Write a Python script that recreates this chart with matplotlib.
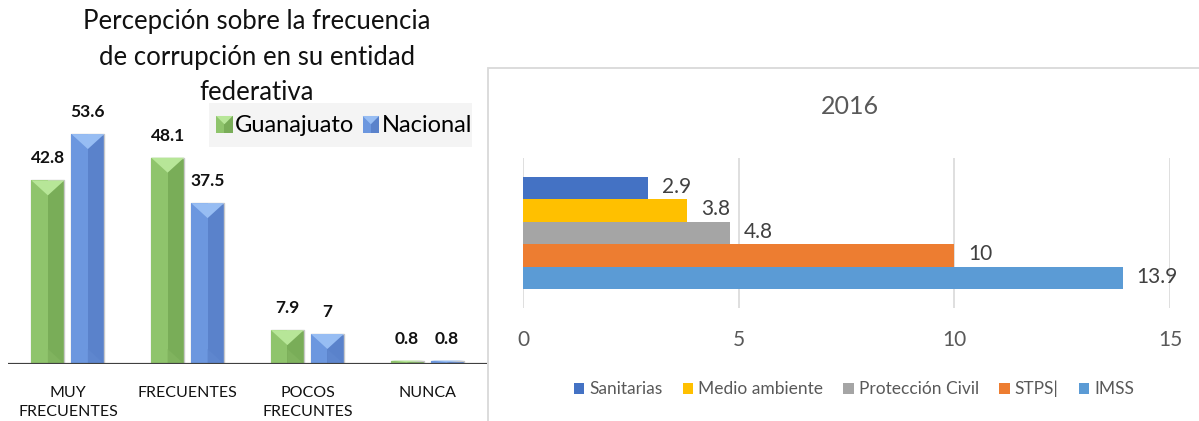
import matplotlib
matplotlib.use("Agg")
import matplotlib.pyplot as plt
from matplotlib.patches import Rectangle, Polygon
from matplotlib.legend_handler import HandlerBase

plt.rcParams['font.family'] = ['Lato', 'DejaVu Sans']

# ---- data: perception of corruption frequency ----
categorias = ["MUY\nFRECUENTES", "FRECUENTES", "POCOS\nFRECUNTES", "NUNCA"]
guanajuato = [42.8, 48.1, 7.9, 0.8]
nacional = [53.6, 37.5, 7.0, 0.8]
serie_izq = ["Guanajuato", "Nacional"]

# ---- data: 2016 inspections ----
dependencias = ["Sanitarias", "Medio ambiente", "Protección Civil", "STPS|", "IMSS"]
valores_2016 = [2.9, 3.8, 4.8, 10, 13.9]
ticks_2016 = [0, 5, 10, 15]

W, H = 1199, 421
fig = plt.figure(figsize=(W / 100, H / 100), dpi=100)


def fx(px):
    return px / W


def fy(py):
    return 1 - py / H


# bevel palettes: (left face, right face, top facet, bottom facet)
VERDE = ("#8fc46c", "#79ad58", "#b7e698", "#80b35e")
AZUL = ("#6c97df", "#5a82cb", "#97bdf3", "#5e86ce")

# ---------------- left chart ----------------
axl = fig.add_axes([fx(8), fy(364), fx(479), (364 - 106.6) / H])
axl.set_xlim(-0.5, 3.5)
axl.set_ylim(0, 60)
for s in axl.spines.values():
    s.set_visible(False)
axl.set_yticks([])

bw = 0.275
off = 0.167
xs = list(range(len(categorias)))
bevel_px = 15.0
units_per_px = 60 / (364 - 106.6)


def bevel(ax, bars, pal):
    light, dark, top, bottom = pal
    for b in bars:
        x0, w, h = b.get_x(), b.get_width(), b.get_height()
        xm = x0 + w / 2
        d = min(bevel_px * units_per_px, h / 2)
        ax.add_patch(Rectangle((x0, 0), w / 2, h, fc=light, ec="none", zorder=3))
        ax.add_patch(Polygon([[xm, d], [x0 + w, 0], [xm, 0]], closed=True,
                             fc=bottom, ec="none", zorder=3))
        ax.add_patch(Polygon([[x0, h], [x0 + w, h], [xm, h - d]], closed=True,
                             fc=top, ec="none", zorder=4))


bars_g = axl.bar([x - off for x in xs], guanajuato, bw, color=VERDE[1],
                 edgecolor="#c8c8c8", linewidth=1.0, zorder=2)
bars_n = axl.bar([x + off for x in xs], nacional, bw, color=AZUL[1],
                 edgecolor="#c8c8c8", linewidth=1.0, zorder=2)
bevel(axl, bars_g, VERDE)
bevel(axl, bars_n, AZUL)

for bars, vals in ((bars_g, guanajuato), (bars_n, nacional)):
    for b, v in zip(bars, vals):
        axl.annotate(f"{v:g}", (b.get_x() + b.get_width() / 2, v),
                     xytext=(0, 10), textcoords="offset points",
                     ha="center", va="bottom", fontsize=12.5,
                     fontweight="bold", color="#111111")

axl.axhline(0, color="#404040", linewidth=2.3, zorder=6)
axl.set_xticks(xs)
axl.set_xticklabels(categorias, fontsize=11.5, color="#111111", linespacing=1.4)
axl.tick_params(axis="x", length=0, pad=16)

fig.text(fx(257), fy(57), "Percepción sobre la frecuencia\nde corrupción en su entidad\nfederativa",
         ha="center", va="center", fontsize=18.5, color="#111111", linespacing=1.55)

# legend box
fig.patches.append(Rectangle((fx(209), fy(147)), fx(263), (147 - 103) / H,
                             transform=fig.transFigure, fc="#f4f4f4", ec="none", zorder=0))


class BevelHandler(HandlerBase):
    def __init__(self, pal):
        super().__init__()
        self.pal = pal

    def create_artists(self, legend, orig_handle, xdescent, ydescent,
                       width, height, fontsize, trans):
        light, dark, top, _ = self.pal
        s = min(width, height)
        x0 = -xdescent + (width - s) / 2
        y0 = -ydescent + (height - s) / 2
        arts = [
            Rectangle((x0, y0), s / 2, s, fc=light, ec="none"),
            Rectangle((x0 + s / 2, y0), s / 2, s, fc=dark, ec="none"),
            Polygon([[x0, y0 + s], [x0 + s, y0 + s], [x0 + s / 2, y0 + s / 2]],
                    closed=True, fc=top, ec="none"),
        ]
        for a in arts:
            a.set_transform(trans)
        return arts


leg_l = fig.legend([bars_g, bars_n], serie_izq, loc="center",
                   bbox_to_anchor=(fx(344), fy(126)), ncol=2, frameon=False,
                   fontsize=17, handlelength=0.7, handleheight=0.7,
                   handletextpad=0.1, columnspacing=0.35,
                   handler_map={bars_g: BevelHandler(VERDE), bars_n: BevelHandler(AZUL)})

# ---------------- right chart ----------------
fig.patches.append(Rectangle((fx(488), fy(440)), fx(740), (440 - 68) / H,
                             transform=fig.transFigure, fc="none", ec="#d9d9d9",
                             lw=1.3, zorder=0))

colores = ["#4472c4", "#ffc000", "#a5a5a5", "#ed7d31", "#5b9bd5"]
axr = fig.add_axes([fx(523), fy(308), fx(647), (308 - 157.7) / H])
axr.set_xlim(0, 15)
axr.set_ylim(4.5 + 0.84, -0.5 - 0.86)
for s in axr.spines.values():
    s.set_visible(False)
axr.set_yticks([])
axr.set_xticks(ticks_2016)
axr.set_xticklabels([str(t) for t in ticks_2016], fontsize=15, color="#595959")
axr.tick_params(axis="x", length=0, pad=16)
axr.grid(axis="x", color="#d9d9d9", linewidth=1.2)
axr.set_axisbelow(True)

hb = []
for i, (lab, v, c) in enumerate(zip(dependencias, valores_2016, colores)):
    b = axr.barh(i, v, height=1.0, color=c, label=lab, zorder=2)
    hb.append(b)
    axr.annotate(f"{v:g}", (v, i), xytext=(10, 1), textcoords="offset points",
                 ha="left", va="center", fontsize=15, color="#404040")

fig.text(fx(850), fy(107), "2016", ha="center", va="center",
         fontsize=18, color="#595959")

fig.legend(hb, dependencias, loc="center", bbox_to_anchor=(fx(854), fy(389)),
           ncol=5, frameon=False, fontsize=12.5, labelcolor="#595959",
           handlelength=0.6, handleheight=0.6, handletextpad=0.3,
           columnspacing=1.15)

fig.savefig("out.png", dpi=100)
